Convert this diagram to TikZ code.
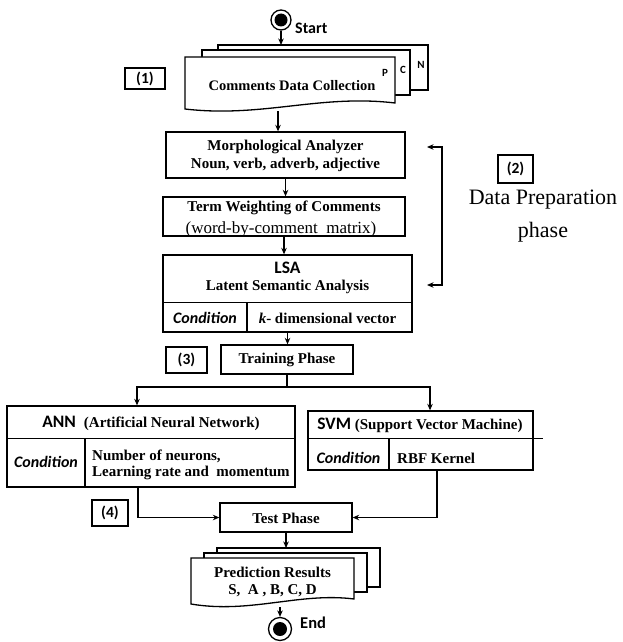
\documentclass[tikz,border=0pt]{standalone}
\usepackage{fontspec}
\setmainfont{Liberation Serif}
\newfontfamily\calfont{Carlito}
\usetikzlibrary{arrows.meta}

\tikzset{
  box/.style={draw, line width=1.3pt, fill=white, inner sep=0pt},
  txt/.style={inner sep=0pt, align=center, font=\bfseries\fontsize{15}{18}\selectfont},
  tag/.style={draw, line width=1.3pt, inner sep=0pt, font=\calfont\bfseries\fontsize{15.5}{17}\selectfont},
  head/.style={inner sep=0pt, font=\calfont\bfseries\fontsize{17.5}{19}\selectfont},
  cond/.style={inner sep=0pt, font=\calfont\bfseries\itshape\fontsize{16}{18}\selectfont},
  letter/.style={inner sep=0pt, font=\calfont\bfseries\fontsize{11}{12}\selectfont},
  arr/.style={line width=1.3pt, -{Stealth[length=6.5pt,width=5.5pt]}},
  page/.style={draw, line width=1.3pt, fill=white},
}
\newcommand{\sanst}[1]{{\calfont\bfseries\fontsize{17.5}{19}\selectfont #1}}

\begin{document}
\begin{tikzpicture}[x=1pt,y=-1pt]
 \useasboundingbox (0,0) rectangle (622,642);

 % start
 \node[circle, draw, line width=1.3pt, minimum size=20pt, inner sep=0pt] (start) at (281,20) {};
 \fill (start.center) circle (6.5pt);
 \node[anchor=west, inner sep=0pt, font=\calfont\bfseries\fontsize{16}{18}\selectfont] (start-lbl) at (295,28) {Start};

 % comments pages
 \draw[page] (218,45) rectangle (428,90);
 \draw[page] (202,50) rectangle (410,95);
 \draw[page] (185,57) -- (395,57) -- (395,103) .. controls (320,94) and (262,118) .. (185,109) -- cycle;
 \coordinate (cdc-top) at (281,45);
 \coordinate (cdc-out) at (278,111);
 \node[txt, font=\bfseries\fontsize{14.5}{18}\selectfont] (cdc) at (292,86) {Comments Data Collection};
 \node[letter] (p-lbl) at (385,73) {P};
 \node[letter] (c-lbl) at (403,70) {C};
 \node[letter] (n-lbl) at (421,65) {N};
 \draw[arr] (start) -- (cdc-top);
 \node[tag, minimum width=40pt, minimum height=21pt] (tag1) at (145,78.5) {(1)};

 % preparation
 \node[box, minimum width=239pt, minimum height=46pt] (morph) at (285.5,155) {};
 \node[txt] (morph-txt) at (285.5,156) {Morphological Analyzer\\Noun, verb, adverb, adjective};
 \node[box, minimum width=242pt, minimum height=39pt] (term) at (284,216.5) {};
 \node[txt] (term-a) at (284,208) {Term Weighting of Comments};
 \node[inner sep=0pt, font=\fontsize{17}{19}\selectfont] (term-b) at (281,229) {(word-by-comment~ matrix)};
 \node[box, minimum width=249pt, minimum height=77pt] (lsa) at (287.5,293.5) {};
 \draw[line width=0.6pt] (163,302) -- (412,302);
 \draw[line width=1.3pt] (247,302) -- (247,332);
 \node[head] (lsa-head) at (287.5,268) {LSA};
 \node[txt] (lsa-sub) at (287.5,287) {Latent Semantic Analysis};
 \node[cond] (lsa-cond) at (205,318) {Condition};
 \node[txt] (lsa-k) at (327.5,318) {\textit{k}- dimensional vector};
 \draw[arr] (cdc-out) -- (cdc-out |- morph.north);
 \draw[arr] (morph.south) -- (morph.south |- term.north);
 \draw[arr] (term.south) -- (term.south |- lsa.north);

 % data preparation bracket
 \coordinate (brk-top) at (427,147);
 \coordinate (brk-bot) at (427,285);
 \draw[line width=1.3pt, {Stealth[length=6.5pt,width=5.5pt]}-{Stealth[length=6.5pt,width=5.5pt]}] (brk-top) -- (442,147) -- (442,285) -- (brk-bot);
 \node[tag, minimum width=35pt, minimum height=28pt] (tag2) at (515.5,169) {(2)};
 \node[inner sep=0pt, align=center, font=\fontsize{22}{33}\selectfont] (prep) at (543,216) {Data Preparation\\phase};

 % training
 \node[box, minimum width=132pt, minimum height=29pt] (train) at (287,359.5) {};
 \node[txt] (train-txt) at (287,360) {Training Phase};
 \node[tag, minimum width=41pt, minimum height=26pt] (tag3) at (186.5,360) {(3)};
 \draw[arr] (lsa.south) -- (lsa.south |- train.north);
 \coordinate (split) at (287,387);
 \draw[line width=1.3pt] (train.south) -- (split);

 % ANN
 \node[box, minimum width=288pt, minimum height=81pt] (ann) at (151,446.5) {};
 \draw[line width=0.6pt] (7,438) -- (295,438);
 \draw[line width=1.3pt] (85,438) -- (85,487);
 \node[txt] (ann-head) at (151,423) {\sanst{ANN}\hspace{8pt}(Artificial Neural Network)};
 \node[cond] (ann-cond) at (46,462) {Condition};
 \node[txt, anchor=west, align=left, font=\bfseries\fontsize{15}{16}\selectfont] (ann-par) at (92,465) {Number of neurons,\\Learning rate and~ momentum};

 % SVM
 \node[box, minimum width=225pt, minimum height=59pt] (svm) at (420.5,440.5) {};
 \draw[line width=0.6pt] (308,438) -- (543,438);
 \draw[line width=1.3pt] (389,438) -- (389,470);
 \node[txt] (svm-head) at (420,425) {\sanst{SVM} (Support Vector Machine)};
 \node[cond] (svm-cond) at (348.5,458) {Condition};
 \node[txt, anchor=west] (svm-par) at (397,458) {RBF Kernel};

 \draw[arr] (split) -| ([xshift=-14pt]ann.north);
 \draw[arr] (split) -| ([xshift=9.5pt]svm.north);

 % test
 \node[box, minimum width=132pt, minimum height=29pt] (test) at (286,517.5) {};
 \node[txt] (test-txt) at (286,518) {Test Phase};
 \node[tag, minimum width=36pt, minimum height=26pt] (tag4) at (110,513) {(4)};
 \draw[arr] ([xshift=-13pt]ann.south) |- (test.west);
 \draw[arr] ([xshift=16.5pt]svm.south) |- (test.east);

 % prediction pages
 \draw[page] (217,548) rectangle (380,587);
 \draw[page] (204,553) rectangle (367,592);
 \draw[page] (191,558) -- (354,558) -- (354,599) .. controls (300,592) and (250,614) .. (191,604) -- cycle;
 \coordinate (pred-top) at (286,548);
 \coordinate (pred-out) at (280,607);
 \node[txt, font=\bfseries\fontsize{15}{17}\selectfont] (pred) at (272.5,581.5) {Prediction Results\\S,~ A , B, C, D};
 \draw[arr] (test.south) -- (pred-top);

 % end
 \node[circle, draw, line width=1.3pt, minimum size=23pt, inner sep=0pt] (end) at (280,629) {};
 \fill (end.center) circle (7pt);
 \node[anchor=west, inner sep=0pt, font=\calfont\bfseries\fontsize{16.5}{18}\selectfont] (end-lbl) at (300,623) {End};
 \draw[arr] (pred-out) -- (end.north);
\end{tikzpicture}
\end{document}
